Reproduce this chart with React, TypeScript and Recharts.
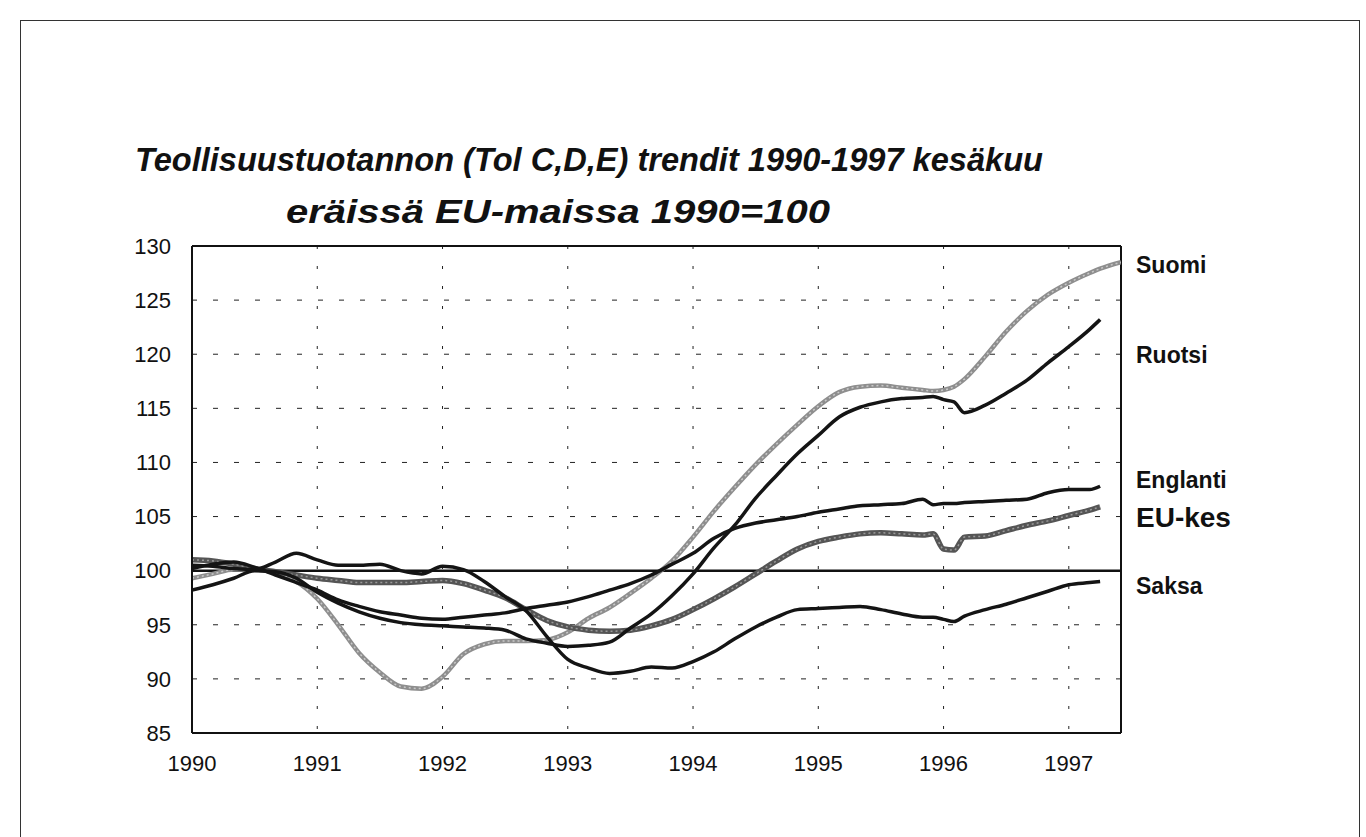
import React from "react";
import { LineChart, Line, XAxis, YAxis, CartesianGrid, ReferenceLine } from "recharts";

// months since Jan 1990 (2-month steps, a few extra points around the 1996 break)
const months = [
  0, 2, 4, 6, 8, 10, 12, 14, 16, 18, 20, 22, 24, 26, 28, 30, 32, 34, 36, 38, 40, 42, 44, 46,
  48, 50, 52, 54, 56, 58, 60, 62, 64, 66, 68, 70, 71, 72, 73, 74, 76, 78, 80, 82, 84, 86, 87, 89,
];

const suomi = [
  99.3, 99.7, 100.1, 100.1, 99.8, 99.0, 97.4, 95.0, 92.4, 90.6, 89.3, 89.1,
  90.2, 92.3, 93.2, 93.5, 93.5, 93.6, 94.3, 95.6, 96.6, 97.9, 99.3, 100.9,
  103.1, 105.5, 107.7, 109.8, 111.7, 113.5, 115.2, 116.5, 117.0, 117.1, 116.9, 116.7,
  116.6, 116.7, 117.0, 117.7, 119.8, 122.1, 124.0, 125.5, 126.6, 127.5, 127.9, 128.5,
];

const ruotsi = [
  98.2, 98.7, 99.3, 100.0, 99.9, 99.3, 98.0, 97.0, 96.2, 95.6, 95.2, 95.0,
  94.9, 94.8, 94.7, 94.5, 93.7, 93.3, 93.0, 93.1, 93.4, 94.7, 96.0, 97.7,
  99.7, 102.1, 104.2, 106.7, 108.8, 110.8, 112.5, 114.2, 115.1, 115.6, 115.9, 116.0,
  116.1, 115.8, 115.6, 114.6, 115.3, 116.4, 117.6, 119.2, 120.7, 122.3, 123.2, null,
];

const englanti = [
  100.2, 100.6, 100.8, 100.3, 99.6, 98.9, 98.2, 97.3, 96.7, 96.2, 95.9, 95.6,
  95.5, 95.7, 95.9, 96.1, 96.5, 96.8, 97.1, 97.6, 98.2, 98.8, 99.6, 100.6,
  101.6, 103.0, 103.9, 104.4, 104.7, 105.0, 105.4, 105.7, 106.0, 106.1, 106.2, 106.6,
  106.1, 106.2, 106.2, 106.3, 106.4, 106.5, 106.6, 107.2, 107.5, 107.5, 107.8, null,
];

const euKes = [
  101.0, 100.9, 100.6, 100.2, 99.9, 99.6, 99.3, 99.1, 98.9, 98.9, 98.9, 99.0,
  99.1, 98.8, 98.2, 97.5, 96.4, 95.4, 94.8, 94.5, 94.4, 94.5, 94.9, 95.5,
  96.4, 97.4, 98.5, 99.7, 100.9, 102.0, 102.7, 103.1, 103.4, 103.5, 103.4, 103.3,
  103.4, 102.0, 101.9, 103.1, 103.2, 103.7, 104.2, 104.6, 105.1, 105.6, 105.9, null,
];

const saksa = [
  100.5, 100.4, 100.2, 100.1, 100.8, 101.6, 101.0, 100.5, 100.5, 100.6, 100.0, 99.7,
  100.4, 100.1, 99.0, 97.6, 96.3, 93.9, 91.8, 91.0, 90.5, 90.7, 91.1, 91.0,
  91.6, 92.5, 93.7, 94.8, 95.7, 96.4, 96.5, 96.6, 96.7, 96.4, 96.0, 95.7,
  95.7, 95.5, 95.3, 95.8, 96.4, 96.9, 97.5, 98.1, 98.7, 98.9, 99.0, null,
];

const yearTicks = [0, 12, 24, 36, 48, 60, 72, 84];
const valueTicks = [85, 90, 95, 100, 105, 110, 115, 120, 125, 130];

const seriesLabels = [
  { text: "Suomi", y: 273, size: 23 },
  { text: "Ruotsi", y: 363, size: 23 },
  { text: "Englanti", y: 488, size: 23 },
  { text: "EU-kes", y: 527, size: 28 },
  { text: "Saksa", y: 594, size: 23 },
];

const data = months.map((m, i) => ({
  m,
  suomi: suomi[i],
  ruotsi: ruotsi[i],
  englanti: englanti[i],
  euKes: euKes[i],
  saksa: saksa[i],
}));

const FONT = "'Liberation Sans', Arial, Helvetica, sans-serif";
const tickStyle = { fill: "#111", fontSize: 22, fontFamily: FONT };

export default function App() {
  return (
    <div
      style={{
        position: "absolute",
        top: 0,
        left: 0,
        width: 1366,
        height: 837,
        overflow: "hidden",
        background: "#fff",
      }}
    >
      <div
        style={{
          position: "absolute",
          left: 20,
          top: 20,
          width: 1338,
          height: 830,
          borderTop: "1.5px solid #333",
          borderLeft: "1.5px solid #333",
          borderRight: "1.5px solid #333",
        }}
      />
      <LineChart
        width={1366}
        height={837}
        data={data}
        margin={{ top: 246, right: 245, bottom: 64, left: 0 }}
        style={{ position: "absolute", top: 0, left: 0 }}
      >
        <CartesianGrid vertical={false} stroke="#222" strokeDasharray="5 16" />
        <CartesianGrid horizontal={false} stroke="#222" strokeDasharray="3 17" />
        <XAxis
          dataKey="m"
          type="number"
          domain={[0, 89]}
          ticks={yearTicks}
          tickFormatter={(m: number) => String(1990 + m / 12)}
          tick={tickStyle}
          tickLine={false}
          tickSize={6}
          tickMargin={16}
          height={40}
          axisLine={{ stroke: "#111", strokeWidth: 2 }}
          allowDataOverflow
        />
        <YAxis
          type="number"
          domain={[85, 130]}
          ticks={valueTicks}
          tick={tickStyle}
          tickLine={false}
          tickSize={6}
          tickMargin={15}
          width={192}
          axisLine={{ stroke: "#111", strokeWidth: 2 }}
          allowDataOverflow
        />
        <ReferenceLine y={130} stroke="#111" strokeWidth={2} />
        <ReferenceLine x={89} stroke="#111" strokeWidth={2} />
        <ReferenceLine y={100} stroke="#111" strokeWidth={2.5} />

        <Line type="monotone" dataKey="suomi" stroke="#8e8e8e" strokeWidth={4.5} dot={false} isAnimationActive={false} />
        <Line type="monotone" dataKey="suomi" stroke="#c9c9c9" strokeWidth={1.5} strokeDasharray="2 3" dot={false} isAnimationActive={false} />
        <Line type="monotone" dataKey="euKes" stroke="#555" strokeWidth={5.5} dot={false} isAnimationActive={false} />
        <Line type="monotone" dataKey="euKes" stroke="#9a9a9a" strokeWidth={1.5} strokeDasharray="2 3" dot={false} isAnimationActive={false} />
        <Line type="monotone" dataKey="ruotsi" stroke="#141414" strokeWidth={3.5} dot={false} isAnimationActive={false} />
        <Line type="monotone" dataKey="englanti" stroke="#141414" strokeWidth={3.5} dot={false} isAnimationActive={false} />
        <Line type="monotone" dataKey="saksa" stroke="#141414" strokeWidth={3.5} dot={false} isAnimationActive={false} />
      </LineChart>
      <svg
        width={1366}
        height={837}
        style={{ position: "absolute", top: 0, left: 0, pointerEvents: "none" }}
      >
        <text
          x={135}
          y={171}
          textLength={908}
          lengthAdjust="spacingAndGlyphs"
          fontFamily={FONT}
          fontSize={33}
          fontWeight="bold"
          fontStyle="italic"
          fill="#111"
        >
          Teollisuustuotannon (Tol C,D,E) trendit 1990-1997 kesäkuu
        </text>
        <text
          x={286}
          y={223}
          textLength={544}
          lengthAdjust="spacingAndGlyphs"
          fontFamily={FONT}
          fontSize={33}
          fontWeight="bold"
          fontStyle="italic"
          fill="#111"
        >
          eräissä EU-maissa 1990=100
        </text>
        {seriesLabels.map((l) => (
          <text
            key={l.text}
            x={1136}
            y={l.y}
            fontFamily={FONT}
            fontSize={l.size}
            fontWeight="bold"
            fill="#111"
          >
            {l.text}
          </text>
        ))}
      </svg>
    </div>
  );
}
